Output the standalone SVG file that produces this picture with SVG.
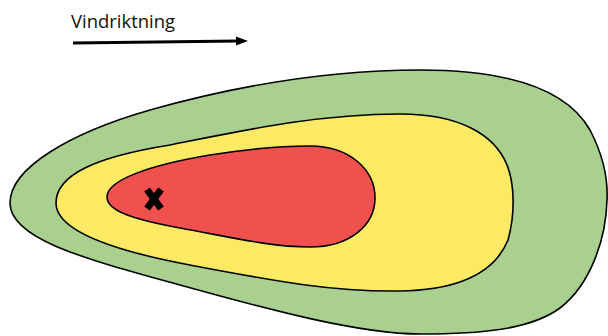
<svg xmlns="http://www.w3.org/2000/svg" width="608" height="336" viewBox="0 0 608 336">
<style>
.zone{stroke:#000;stroke-width:1.6;stroke-linejoin:round}
.lbl{font-family:"Open Sans","Liberation Sans",sans-serif;font-size:18.5px;fill:#111}
</style>
<rect width="608" height="336" fill="#fff"/>
<g id="zone-green">
<path class="zone" fill="#A9D08E" d="M 10,203 C 10,168 70,133 150,110 C 250,82 340,70 420,70 C 520,70 570,95 590,130 C 603,155 608,180 607,200 C 606,240 590,285 560,308 C 530,330 480,334 420,334 C 360,334 270,310 180,285 C 90,260 10,240 10,203 Z"/>
</g>
<g id="zone-yellow">
<path class="zone" fill="#FCE964" d="M 56,203 C 56,175 95,157 170,145 C 250,129 320,114 400,114 C 460,114 495,135 507,165 C 515,185 515,215 508,240 C 495,272 460,290 400,291 C 330,292 270,280 190,265 C 110,250 56,230 56,203 Z"/>
</g>
<g id="zone-red">
<path class="zone" fill="#F1514E" d="M 107,197 C 107,180 150,165 210,155 C 260,147 290,146 310,146 C 350,146 375,170 375,198 C 375,225 350,247 310,247 C 270,247 230,237 180,228 C 130,219 107,210 107,197 Z"/>
</g>
<g id="source">
<line x1="147" y1="189.5" x2="161" y2="208.5" stroke="#000" stroke-width="7"/>
<line x1="161" y1="189.5" x2="147" y2="208.5" stroke="#000" stroke-width="7"/>
</g>
<g id="label">
<text class="lbl" x="71" y="28" textLength="104" lengthAdjust="spacingAndGlyphs">Vindriktning</text>
</g>
<g id="connectors">
<line x1="73" y1="43" x2="238" y2="41" stroke="#000" stroke-width="3"/>
<polygon points="236,36.5 248,41 236,45.5" fill="#000"/>
</g>
</svg>
